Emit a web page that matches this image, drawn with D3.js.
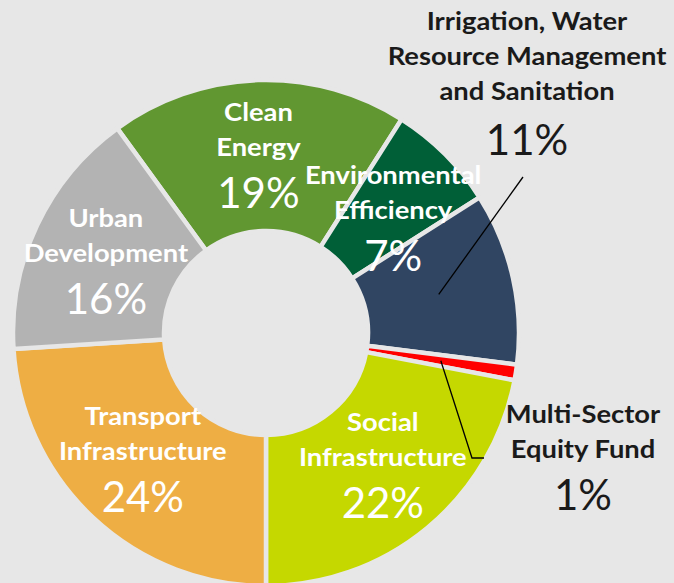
<!DOCTYPE html>
<html>
<head>
<meta charset="utf-8">
<script src="https://cdn.jsdelivr.net/npm/d3@7"></script>
<style>
  body { margin: 0; background: #e7e7e7; }
  svg { display: block; }
</style>
</head>
<body>
<script>
var width = 674
var height = 583

// slice data, clockwise from the top-left
var sectors = ['Clean Energy', 'Environmental Efficiency', 'Irrigation, Water Resource Management and Sanitation',
               'Multi-Sector Equity Fund', 'Social Infrastructure', 'Transport Infrastructure', 'Urban Development']
var shares = [19, 7, 11, 1, 22, 24, 16]
var labelLines = [['Clean', 'Energy'], ['Environmental', 'Efficiency'],
                  ['Irrigation, Water', 'Resource Management', 'and Sanitation'],
                  ['Multi-Sector', 'Equity Fund'], ['Social', 'Infrastructure'],
                  ['Transport', 'Infrastructure'], ['Urban', 'Development']]
var colors = ['#619731', '#005f37', '#304562', '#ff0000', '#c5d800', '#eeae44', '#b3b3b3']

var bg = '#e7e7e7'
var cx = 266, cy = 333
var rOuter = 253, rInner = 102

var svg = d3.select('body')
			.append('svg')
			.attr('width', width)
			.attr('height', height)

svg.append('rect')
	.attr('width', '100%')
	.attr('height', '100%')
	.attr('fill', bg)

var pie = d3.pie()
	.sort(null)
	.value(function(d){ return d })
	.startAngle(-36 * Math.PI / 180)
	.endAngle(324 * Math.PI / 180)

var arcs = pie(shares)

var arc = d3.arc()
	.innerRadius(rInner)
	.outerRadius(rOuter)

var mid = d3.arc()
	.innerRadius(177)
	.outerRadius(177)

var g = svg.append('g')
	.attr('transform', 'translate(' + cx + ',' + cy + ')')

g.selectAll('path')
	.data(arcs)
	.enter()
	.append('path')
	.attr('d', arc)
	.attr('fill', function(d, i){ return colors[i] })
	.attr('stroke', bg)
	.attr('stroke-width', 4.5)
	.attr('stroke-linejoin', 'miter')

var font = 'Lato, "Open Sans", sans-serif'

// bold names are drawn a bit wider, like the original's font
function name(parent, txt, x, y, fill) {
	parent.append('text')
		.attr('text-anchor', 'middle')
		.attr('transform', 'translate(' + x + ',' + y + ') scale(1.14,1)')
		.attr('fill', fill)
		.style('font-family', font)
		.style('font-weight', 'bold')
		.style('font-size', '24px')
		.text(txt)
}

function pct(parent, txt, x, y, fill) {
	parent.append('text')
		.attr('text-anchor', 'middle')
		.attr('x', x)
		.attr('y', y)
		.attr('fill', fill)
		.style('font-family', font)
		.style('font-size', '42px')
		.text(txt)
}

// labels inside the ring sit on the slice centroid
var nudge = { 0: [-2, 0], 1: [2, 11], 6: [0, 4], 5: [-2, -2], 4: [4, -3] }

arcs.forEach(function(d, i){
	if (i == 2 || i == 3) return
	var c = mid.centroid(d)
	var n = nudge[i] || [0, 0]
	var x = c[0] + n[0], y = c[1] + n[1]
	labelLines[i].forEach(function(l, j){
		name(g, l, x, y - 35 + j * 35, '#fff')
	})
	pct(g, shares[i] + '%', x, y + 52, '#fff')
})

// outside labels with leader lines
var outside = { 2: { x: 527, y: 30, pct: 155, line: [[257, -156]] },
                3: { x: 583, y: 423, pct: 510, line: [[206, 125], [218, 125]] } }

Object.keys(outside).forEach(function(k){
	var i = +k, o = outside[k]
	var c = mid.centroid(arcs[i])
	var pts = [c].concat(o.line)
	g.append('path')
		.attr('d', d3.line()(pts))
		.attr('fill', 'none')
		.attr('stroke', '#000')
		.attr('stroke-width', 1.3)
	labelLines[i].forEach(function(l, j){
		name(svg, l, o.x, o.y + j * 35, '#1a1a1a')
	})
	pct(svg, shares[i] + '%', o.x, o.pct, '#1a1a1a')
})
</script>
</body>
</html>
